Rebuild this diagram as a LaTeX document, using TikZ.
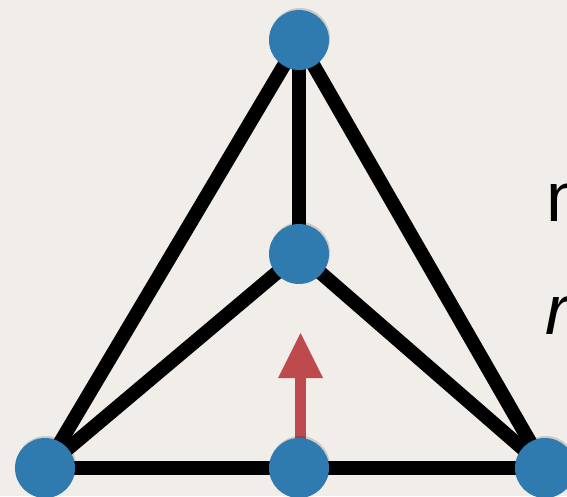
\documentclass[tikz,border=0pt]{standalone}
\usepackage{fontspec}
\setmainfont{Liberation Sans}
\definecolor{bg}{HTML}{F1EEE9}
\definecolor{nodeblue}{HTML}{2F7BB0}
\definecolor{arrowred}{HTML}{BF4A4D}
\begin{document}
\begin{tikzpicture}[x=1pt,y=-1pt,
  vert/.style={circle,fill=nodeblue,minimum size=60pt,inner sep=0pt},
  edge/.style={line width=14pt,black},
  lbl/.style={anchor=base west,inner sep=0pt,font=\fontsize{70}{70}\selectfont}]
\fill[bg] (0,0) rectangle (567,496);
\useasboundingbox (0,0) rectangle (567,496);
\clip (0,0) rectangle (567,496);
\coordinate (T) at (299,40);
\coordinate (M) at (299,254);
\coordinate (BL) at (45,468);
\coordinate (BM) at (299,468);
\coordinate (BR) at (545,468);
\draw[edge] (T) -- (BL);
\draw[edge] (T) -- (BR);
\draw[edge] (T) -- (M);
\draw[edge] (M) -- (BL);
\draw[edge] (M) -- (BR);
\draw[edge] (BL) -- (BM);
\draw[edge] (BM) -- (BR);
\coordinate (AT) at (300.5,333);
\fill[arrowred] (295,378) rectangle (306,445);
\fill[arrowred] (AT) -- (323,378) -- (278,378) -- cycle;
\foreach \p/\n in {T/t,M/m,BL/bl,BM/bm,BR/br}{
  \fill[black,opacity=0.15] ([xshift=1pt,yshift=2pt]\p) circle (30pt);
  \node[vert] (\n) at (\p) {};
}
\node[lbl] (txt1) at (546,221) {n};
\node[lbl] (txt2) at (545,334) {\itshape r};
\end{tikzpicture}
\end{document}
